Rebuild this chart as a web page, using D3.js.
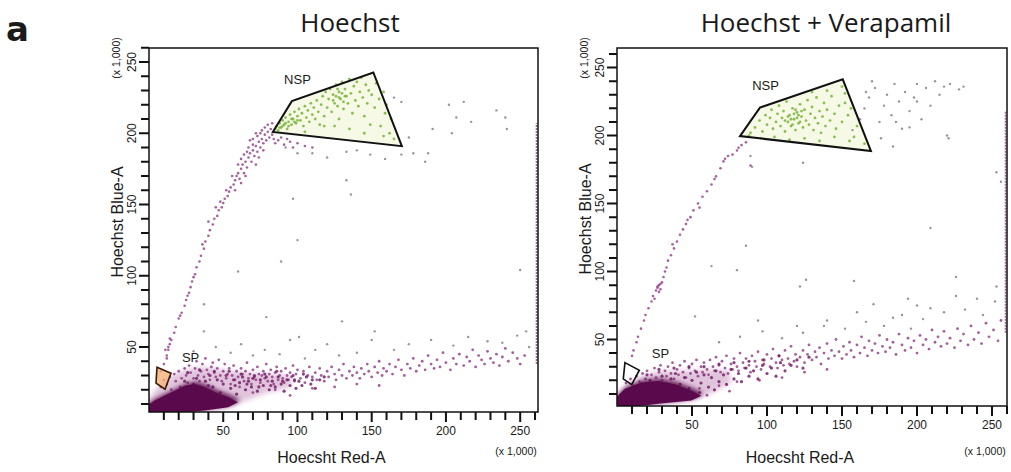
<!DOCTYPE html>
<html>
<head>
<meta charset="utf-8">
<script src="https://cdn.jsdelivr.net/npm/d3@7"></script>
<style>
  body { margin: 0; background: #fff; }
  svg { display: block; }
  text { font-family: "Liberation Sans", Arial, sans-serif; fill: #1a1a1a; }
</style>
</head>
<body>
<div id="chart"></div>
<script>
// tick values (x 1,000)
var majorTicks = [50, 100, 150, 200, 250];
var minorTicks = [10, 20, 30, 40, 60, 70, 80, 90, 110, 120, 130, 140, 160, 170, 180, 190, 210, 220, 230, 240, 260];

// ---------- Hoechst (left) ----------
var leftCore = [[0,4.5],[0,10.3],[5.2,13.8],[11.9,17.3],[18.6,20.8],[25.4,24.3],[32.1,25.5],[38.9,23.2],[45.6,19.6],[54.6,16.1],[61.3,12.6],[54.6,9.1],[38.9,6.8],[16.4,4.5]];
var leftHalo = [[0,4.5],[0,14],[6,22],[14,29],[24,34],[36,36],[50,34],[64,32],[80,31],[95,30],[96,22],[80,18],[64,12],[50,7],[30,4.5]];
var leftDense = [[20,18],[24,26],[28,21],[32,28],[35,19],[38,26],[41,30],[43,22],[46,27],[48,18],[50,24],[52,30],[55,21],[57,27],[59,17],[61,25],[63,29],[65,20],[67,26],[69,22],[71,30],[73,19],[75,27],[77,23],[79,29],[81,20],[83,26],[85,22],[87,29],[89,24],[91,19],[93,27],[95,23],[97,30],[99,21],[101,26],[103,23],[106,29],[109,24],[112,21],[115,27],[26,32],[34,34],[44,33],[54,33],[62,31],[70,28],[78,31],[86,33],[30,24],[40,23],[58,23],[66,24],[74,22],[82,23],[90,26],[98,27],[104,31],[110,27],[118,29]];
var leftBand = [[8,22],[10,27],[12,24],[14,29],[15,20],[17,31],[18,26],[20,33],[21,22],[22,28],[24,35],[25,30],[26,25],[27,37],[28,32],[30,28],[31,35],[32,40],[33,30],[34,26],[35,33],[36,38],[37,29],[38,42],[39,34],[40,31],[41,27],[42,36],[43,39],[44,32],[45,29],[46,35],[47,41],[48,30],[49,26],[50,33],[51,38],[52,28],[53,31],[54,35],[55,24],[56,30],[57,37],[58,27],[59,33],[60,29],[61,22],[62,35],[63,31],[64,26],[65,33],[66,39],[67,28],[68,31],[69,24],[70,34],[71,29],[72,27],[73,36],[74,31],[75,25],[76,30],[77,33],[78,28],[79,38],[80,26],[81,31],[82,34],[83,29],[84,24],[85,32],[86,36],[87,27],[88,30],[89,33],[90,28],[91,25],[92,35],[93,30],[94,27],[95,32],[96,29],[97,37],[98,26],[99,31],[100,34],
  [102,28],[104,33],[105,25],[107,30],[108,36],[110,29],[112,32],[113,27],[115,35],[116,30],[118,26],[120,33],[121,29],[123,36],[125,31],[126,27],[128,34],[130,30],[131,38],[133,28],[135,33],[137,30],[138,36],[140,32],[142,28],[143,35],[145,31],[147,38],[148,33],[150,29],[152,36],[154,32],[155,40],[157,30],[158,35],[160,33],
  [162,38],[164,31],[166,36],[168,41],[170,34],[172,30],[174,38],[176,35],[178,42],[180,33],[182,37],[184,40],[186,34],[188,44],[190,38],[192,35],[194,41],[196,36],[198,46],[200,39],[203,34],[205,42],[207,38],[209,45],[212,37],[214,43],[216,40],[218,48],[220,36],[222,44],[224,41],[226,38],[228,47],[230,42],[232,39],[234,45],[236,37],[238,43],[240,49],[242,40],[245,46],[248,42],[250,38],[253,44],
  [70,18],[85,20],[95,16],[110,21],[125,22],[140,24],[155,23]];
var leftBranch = [[8,33],[10,38],[12,42],[11,48],[13,50],[14,56],[12,44],[13,48],[14,52],[15,55],[17,60],[18,64],[20,70],[22,74],[24,79],[25,83],[27,88],[28,92],[29,96],[31,101],[32,106],[34,110],[35,114],[37,119],[38,124],[40,128],[41,132],[43,136],[44,140],[46,142],[47,146],[49,148],[50,151],[51,154],[53,156],[54,159],[55,162],[57,164],[58,167],[59,170],[60,172],[61,168],[62,175],[63,178],[64,172],[65,180],[66,176],[67,183],[68,186],[69,180],[70,188],[71,184],[72,191],[73,187],[74,194],[75,190],[76,196],[77,193],[78,199],[79,195],[80,201],[81,197],[82,203],[83,199],[84,196],[85,193],[87,195],[89,197],[91,192],[93,196],[95,194],[97,190],[100,193],[105,191],[110,190],
  [45,148],[48,152],[52,160],[56,170],[58,160],[62,165],[66,187],[70,192],[74,183],[77,188],[40,138],[36,122],[30,99],[26,86],[21,72],[65,170],[72,178],[60,178],[68,195],[75,200],[80,206],[83,207],[70,196],[73,198],[76,202],[78,204],[72,200],[67,190],[64,185],[62,182]];
var leftNsp = [[85,203],[86,205],[87,202],[88,207],[89,204],[90,209],[91,206],[92,211],[93,203],[94,208],[95,213],[96,206],[97,210],[98,215],[99,207],[100,212],[101,217],[102,209],[103,214],[104,205],[105,219],[106,211],[107,216],[108,208],[109,221],[110,213],[111,218],[112,210],[113,223],[114,215],
  [116,220],[117,226],[118,212],[119,229],[120,218],[121,224],[122,231],[123,215],[124,227],[125,221],[126,234],[127,219],[128,229],[129,224],[130,236],[131,217],[132,231],[133,226],[134,221],[135,238],[136,228],[137,214],[138,233],[139,223],[140,236],[141,219],[142,229],[143,239],[144,225],[145,212],[146,234],[147,221],[148,230],[149,206],[150,227],
  [152,218],[153,235],[155,224],[156,205],[158,229],[159,214],[160,220],[162,200],[163,210],[165,196],[158,198],[145,200],[135,203],[125,205],[115,206],[105,201],[128,210],[118,205],
  [88,204],[90,205],[92,207],[94,205],[96,210],[98,208],[100,209],[126,226],[128,225],[130,228],[132,226],[124,223],[127,231],[131,222]];
var leftScatter = [[170,222],[202,220],[212,222],[207,211],[191,203],[204,200],[217,208],[234,216],[240,211],[241,203],[178,186],[188,186],[186,180],[159,182],[170,185],[149,185],[140,188],[133,187],[136,157],[133,167],[97,154],[100,125],[89,110],[60,103],[37,80],[250,104],[254,61],[130,68],[152,61],[101,57],[79,71],[37,61],[120,183],[110,186],[100,186],[92,190],[175,197],[165,225],
  [30,47],[45,50],[55,46],[62,52],[70,44],[78,48],[88,45],[95,55],[105,42],[112,48],[120,52],[128,44],[140,46],[150,55],[165,48],[175,52],[190,55],[205,51],[215,57],[228,54],[238,53],[248,58],[256,50]];
var leftEdge = [38, 207];
var leftNspGate = [[83.4,200.9],[96.2,222.5],[151.1,242.6],[170.3,190.9]];
var leftSpGate = [[5.4,35.8],[14.8,31.6],[10.8,20.4],[4.7,24.6]];

// ---------- Hoechst + Verapamil (right) ----------
var rightCore = [[0,1.2],[0,7.8],[6.4,15],[17.6,19.8],[28.7,21],[39.8,18.6],[50.9,13.8],[57.6,10.2],[50.9,6.6],[28.7,4.2],[6.4,1.2]];
var rightHalo = [[0,1.2],[0,10],[8,18],[18,24],[30,27],[45,27],[60,28],[75,27],[76,18],[62,10],[45,5],[25,1.2]];
var rightDense = [[18,14],[22,20],[26,16],[30,23],[33,15],[36,21],[39,25],[42,17],[45,22],[48,14],[50,20],[53,26],[56,18],[58,24],[61,15],[63,22],[66,27],[68,19],[71,24],[73,17],[76,28],[78,21],[81,25],[83,19],[86,29],[88,23],[91,27],[94,21],[97,31],[100,25],[103,29],[106,23],[109,33],[112,27],[116,31],[120,35],[124,29],[128,37],[20,24],[28,28],[38,29],[48,30],[58,30],[68,32],[78,33],[88,34],[98,35],[108,38],[25,11],[35,12],[45,10],[55,11],[65,13]];
var rightBand = [[6,18],[9,21],[11,16],[13,23],[15,19],[17,25],[19,21],[20,27],[22,17],[23,24],[25,29],[26,22],[28,26],[29,31],[30,20],[32,27],[33,23],[34,30],[36,25],[37,33],[38,21],[40,28],[41,24],[42,31],[44,26],[45,34],[46,22],[48,29],[49,25],[50,32],[52,27],[53,35],[54,23],[56,30],[57,26],[58,33],[60,28],
  [61,24],[62,35],[64,30],[65,27],[66,37],[68,31],[69,26],[70,34],[72,29],[73,38],[74,25],[76,32],[77,28],[78,36],[80,30],[81,27],[82,40],[84,33],[85,29],[86,36],[88,31],[89,26],[90,38],[92,34],[93,30],[94,41],[96,28],[97,35],[98,32],[100,39],[102,30],[103,36],[104,43],[106,33],[107,29],[108,38],[110,35],[111,31],[112,42],[114,36],[115,32],[116,45],[118,34],[119,39],[120,30],
  [122,37],[124,42],[125,33],[127,39],[128,46],[130,35],[132,41],[133,37],[135,44],[136,32],[138,40],[140,47],[141,36],[143,42],[145,38],[146,50],[148,41],[150,36],[151,45],[153,39],[155,48],[156,42],[158,37],[160,46],[162,40],[163,52],[165,44],[167,38],[168,49],[170,42],[172,47],[174,40],[175,53],[177,45],[179,41],[180,50],[182,44],[184,48],[186,39],[188,54],[190,46],[192,42],[194,51],[196,44],[198,49],[200,40],
  [202,53],[204,46],[206,50],[208,43],[210,57],[212,48],[214,52],[216,45],[218,56],[220,47],[222,51],[225,44],[227,58],[229,49],[231,54],[234,46],[236,60],[238,50],[241,55],[243,47],[246,62],[248,52],[251,57],[254,49],[256,64],
  [40,10],[55,14],[68,16],[80,19],[95,20],[110,22],[125,26],[140,28],[60,9],[75,12]];
var rightBranch = [[10,38],[11,42],[13,48],[14,52],[16,58],[18,64],[19,68],[21,73],[23,78],[24,82],[26,86],[27,88],[28,90],[29,87],[30,92],[28,85],[27,89],[29,91],[31,96],[33,103],[34,108],[36,112],[38,117],[40,122],[42,127],[44,131],[46,135],[49,140],[51,145],[54,150],[57,155],[60,159],[63,164],[66,170],[69,176],[71,181],[74,185],[77,186],[80,189],[83,193],[86,195],[89,178],[55,147],[47,138],[65,168],[72,183],[81,191],[37,120],[32,100],[25,80]];
var rightNsp = [[92,206],[95,211],[97,203],[99,215],[100,208],[102,213],[103,219],[104,205],[106,210],[107,216],[108,222],[109,207],[110,213],[111,218],[112,203],[113,225],[114,210],[115,215],[116,207],[117,220],[118,212],[119,204],[120,217],[121,209],[122,223],[123,214],[124,206],[125,219],[126,211],[127,226],[128,208],[129,216],[130,221],[131,204],[132,213],[133,228],[134,209],[135,218],[136,202],[137,214],[138,224],[139,207],[140,219],[142,211],[143,229],[145,216],[146,205],[148,222],[150,210],[152,231],[154,215],[156,220],[158,199],[160,207],[152,224],[89,202],[88,200],[96,198],[105,199],[115,197],[125,198],[135,196],[145,199],[155,196],[165,194],[150,236],[140,233],[130,232],
  [112,211],[114,214],[116,212],[118,216],[120,213],[122,210],[117,208],[121,215],[119,219],[123,218]];
var rightScatter = [[157,204],[162,212],[165,220],[168,228],[172,235],[175,210],[178,222],[180,230],[183,215],[185,238],[188,225],[190,205],[192,232],[195,218],[198,228],[200,238],[203,212],[206,235],[209,222],[212,240],[215,230],[218,236],[222,238],[228,234],[231,236],[220,200],[184,192],[195,206],[176,198],[170,240],[166,232],[200,225],[186,210],
  [63,104],[80,101],[86,119],[122,89],[126,94],[158,93],[171,76],[209,132],[226,96],[240,80],[253,89],[253,173],[256,166],[194,80],[209,73],[184,66],[94,64],[52,67],[90,177],[124,180],[221,198],[89,185],
  [68,48],[82,52],[97,56],[110,51],[124,55],[138,60],[152,58],[166,63],[178,60],[190,68],[204,65],[218,70],[232,72],[244,68],[252,78],[160,70],[140,64],[120,60],[200,75],[226,82],[196,58]];
var rightEdge = [55, 218];
var rightNspGate = [[82,199.6],[95.3,220.6],[150.5,241.4],[169.3,188.6]];
var rightSpGate = [[5.3,33],[14.9,27.4],[9.8,16.8],[4.2,21]];

var width = 1011, height = 472;

var svg = d3.select("#chart").append("svg")
            .attr("width", width)
            .attr("height", height);

// soft edge for the dense event clouds
svg.append("defs").append("filter").attr("id", "soft")
   .attr("x", "-20%").attr("y", "-20%").attr("width", "140%").attr("height", "140%")
   .append("feGaussianBlur").attr("stdDeviation", 2.5);

svg.append("text")
   .attr("x", 6).attr("y", 41)
   .style("font-family", "'DejaVu Sans', sans-serif")
   .style("font-weight", "bold")
   .style("font-size", "34px")
   .text("a");

var panels = [
  {id: "L", title: "Hoechst", titleX: 350, l: 149, r: 538, t: 48, b: 412, xDom: [0, 262], yDom: [4.4, 259.8],
   core: leftCore, halo: leftHalo, dense: leftDense, band: leftBand, branch: leftBranch, nsp: leftNsp, scatter: leftScatter, edge: leftEdge,
   nspGate: leftNspGate, spGate: leftSpGate, spFilled: true, nspLabel: [100, 238], spLabel: [28, 43]},
  {id: "R", title: "Hoechst + Verapamil", titleX: 826, l: 617, r: 1007, t: 48, b: 406, xDom: [0, 260], yDom: [1.1, 264.4],
   core: rightCore, halo: rightHalo, dense: rightDense, band: rightBand, branch: rightBranch, nsp: rightNsp, scatter: rightScatter, edge: rightEdge,
   nspGate: rightNspGate, spGate: rightSpGate, spFilled: false, nspLabel: [99, 237], spLabel: [29, 40]}
];

panels.forEach(function(p) {
  var x = d3.scaleLinear().domain(p.xDom).range([p.l, p.r]);
  var y = d3.scaleLinear().domain(p.yDom).range([p.b, p.t]);
  var line = d3.line().x(d => x(d[0])).y(d => y(d[1]));

  svg.append("text")
     .attr("x", p.titleX).attr("y", 32)
     .attr("text-anchor", "middle")
     .style("font-family", "'Open Sans', sans-serif")
     .style("font-size", "26px")
     .text(p.title);

  svg.append("clipPath").attr("id", "clip" + p.id)
     .append("rect")
     .attr("x", p.l).attr("y", p.t)
     .attr("width", p.r - p.l).attr("height", p.b - p.t);

  var g = svg.append("g").attr("clip-path", "url(#clip" + p.id + ")");

  // faint tint inside the NSP gate
  g.append("path").attr("d", line(p.nspGate) + "Z").attr("fill", "#f6f9e6");

  g.append("path").attr("d", line(p.halo) + "Z")
   .attr("fill", "#9a3f8c").attr("opacity", 0.3)
   .attr("filter", "url(#soft)");

  function dots(data, color, r, op) {
    g.append("g").selectAll("circle")
     .data(data)
     .enter()
     .append("circle")
     .attr("cx", d => x(d[0]))
     .attr("cy", d => y(d[1]))
     .attr("r", r)
     .attr("fill", color)
     .attr("opacity", op);
  }

  dots(p.band, "#852a78", 1.4, 0.75);
  dots(p.dense, "#6a1460", 1.6, 0.8);
  g.append("path").attr("d", line(p.core) + "Z")
   .attr("fill", "#560848").attr("filter", "url(#soft)");
  g.append("path").attr("d", line(p.core) + "Z")
   .attr("fill", "#5a0a4c").attr("transform", "translate(-2,2)");
  dots(p.branch, "#8a2e7e", 1.3, 0.75);
  dots(p.scatter, "#7d6a82", 1.2, 0.75);
  dots(p.nsp, "#78b436", 1.4, 0.85);

  // saturated events stacked on the right edge
  g.append("line")
   .attr("x1", x(p.xDom[1]) - 1.5).attr("x2", x(p.xDom[1]) - 1.5)
   .attr("y1", y(p.edge[0])).attr("y2", y(p.edge[1]))
   .attr("stroke", "#7a2a70").attr("stroke-width", 1.6)
   .attr("stroke-dasharray", "2,1").attr("opacity", 0.7);

  // gates
  svg.append("path").attr("d", line(p.nspGate) + "Z")
     .attr("fill", "none").attr("stroke", "#111").attr("stroke-width", 2);
  svg.append("path").attr("d", line(p.spGate) + "Z")
     .attr("fill", p.spFilled ? "#f2b27a" : "none")
     .attr("fill-opacity", 0.8)
     .attr("stroke", p.spFilled ? "#3a1a08" : "#111")
     .attr("stroke-width", 1.6);

  svg.append("text")
     .attr("x", x(p.nspLabel[0])).attr("y", y(p.nspLabel[1]))
     .attr("dy", "0.35em").attr("text-anchor", "middle")
     .style("font-size", "13px")
     .text("NSP");
  svg.append("text")
     .attr("x", x(p.spLabel[0])).attr("y", y(p.spLabel[1]))
     .attr("dy", "0.35em").attr("text-anchor", "middle")
     .style("font-size", "13px")
     .text("SP");

  // tick marks, one path per axis
  var ticks = minorTicks.map(v => [v, 8]).concat(majorTicks.map(v => [v, 10]));
  var xt = ticks.map(d => `M${x(d[0])},${p.b}V${p.b + d[1]}`).join("");
  var yt = ticks.map(d => `M${p.l},${y(d[0])}H${p.l - d[1]}`).join("");
  svg.append("path").attr("d", xt)
     .attr("fill", "none").attr("stroke", "#111").attr("stroke-width", 2);
  svg.append("path").attr("d", yt)
     .attr("fill", "none").attr("stroke", "#111").attr("stroke-width", 2);

  // frame
  svg.append("rect")
     .attr("x", p.l).attr("y", p.t)
     .attr("width", p.r - p.l).attr("height", p.b - p.t)
     .attr("fill", "none").attr("stroke", "#111").attr("stroke-width", 1.5);

  majorTicks.forEach(function(v) {
    svg.append("text")
       .attr("x", x(v)).attr("y", p.b + 23)
       .attr("text-anchor", "middle")
       .style("font-size", "12px")
       .text(v);
    svg.append("text")
       .attr("transform", `translate(${p.l - 13},${y(v)}) rotate(-90)`)
       .attr("text-anchor", "middle")
       .style("font-size", "12px")
       .text(v);
  });

  // axis titles
  svg.append("text")
     .attr("x", (p.l + p.r) / 2 - 12).attr("y", 463)
     .attr("text-anchor", "middle")
     .style("font-size", "16px")
     .text("Hoecsht Red-A");
  svg.append("text")
     .attr("x", p.r - 22).attr("y", 455)
     .attr("text-anchor", "middle")
     .style("font-size", "10.5px")
     .text("(x 1,000)");

  svg.append("text")
     .attr("transform", `translate(${p.l - 26},${(p.t + p.b) / 2 - 8}) rotate(-90)`)
     .attr("text-anchor", "middle")
     .style("font-size", "16px")
     .text("Hoechst Blue-A");
  svg.append("text")
     .attr("transform", `translate(${p.l - 29},${p.t + 10}) rotate(-90)`)
     .attr("text-anchor", "middle")
     .style("font-size", "10.5px")
     .text("(x 1,000)");
});
</script>
</body>
</html>
